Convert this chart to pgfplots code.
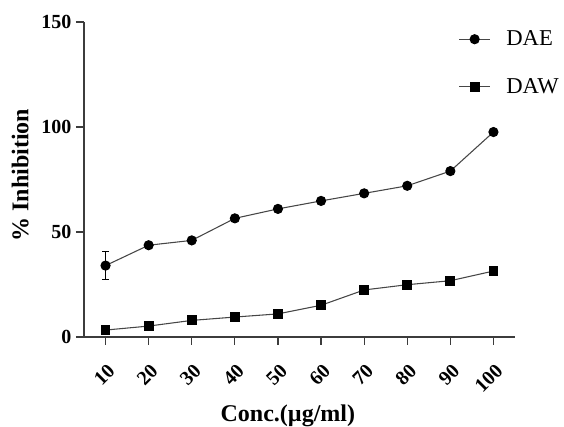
\documentclass[border=0pt]{standalone}
\usepackage{fontspec}
\setmainfont{Liberation Serif}
\usepackage{pgfplots}
\pgfplotsset{compat=1.18}
\definecolor{linegray}{RGB}{70,70,70}
\definecolor{axisgray}{RGB}{60,60,60}

\begin{document}
\begin{tikzpicture}
\useasboundingbox (-63pt,-67.5pt) rectangle (360pt,252.75pt);
\begin{axis}[
  name=ax,
  at={(0,0)}, anchor=south west,
  scale only axis,
  width=323.25pt, height=236.25pt,
  xmin=-0.5, xmax=9.5,
  ymin=0, ymax=150,
  axis x line*=bottom, axis y line*=left,
  axis line style={axisgray, line width=0.9pt},
  xtick={0,...,9},
  xticklabels={10,20,30,40,50,60,70,80,90,100},
  ytick={0,50,100,150},
  tick align=outside,
  major tick length=6pt,
  tick style={axisgray, line width=0.9pt},
  /pgf/number format/assume math mode=true,
  ticklabel style={font=\fontsize{15}{18}\selectfont\bfseries},
  xticklabel style={xshift=6.8pt, yshift=-14.7pt, rotate=45, anchor=east},
  xlabel={Conc.(µg/ml)},
  ylabel={\% Inhibition},
  label style={font=\fontsize{18}{21}\selectfont\bfseries},
  xlabel style={at={(0.473,-0.25)}, anchor=center},
  ylabel style={at={(-0.148,0.514)}, anchor=center},
  legend style={draw=none, fill=none, at={(0.86,0.99)}, anchor=north west,
    font=\fontsize{17}{20}\selectfont, row sep=19pt,
    /tikz/every odd column/.append style={column sep=10pt},
    cells={anchor=west}},
  legend image code/.code={
    \draw[mark repeat=2, mark phase=2, #1] plot coordinates {(0cm,0cm) (0.4cm,0cm) (0.8cm,0cm)};
  },
  clip=false,
]
\addplot[linegray, line width=0.8pt, mark=*, mark size=3.4pt,
  mark options={fill=black, draw=black},
  error bars/.cd, y dir=both, y explicit,
  error bar style={black, line width=0.8pt},
  error mark options={black, rotate=90, mark size=2.5pt, line width=0.8pt}]
  coordinates {
  (0,34) +- (0,6.5)
  (1,43.7) +- (0,0)
  (2,46) +- (0,0)
  (3,56.5) +- (0,0)
  (4,61) +- (0,0)
  (5,64.8) +- (0,0)
  (6,68.4) +- (0,0)
  (7,72) +- (0,0)
  (8,79) +- (0,0)
  (9,97.6) +- (0,0)
  };
\addlegendentry{DAE}
\addplot[linegray, line width=0.8pt, mark=square*, mark size=3.3pt,
  mark options={fill=black, draw=black}]
  coordinates {
  (0,3.3) (1,5.2) (2,7.9) (3,9.5) (4,11) (5,15.1)
  (6,22.4) (7,24.9) (8,26.8) (9,31.4)
  };
\addlegendentry{DAW}
\end{axis}
\end{tikzpicture}
\end{document}
